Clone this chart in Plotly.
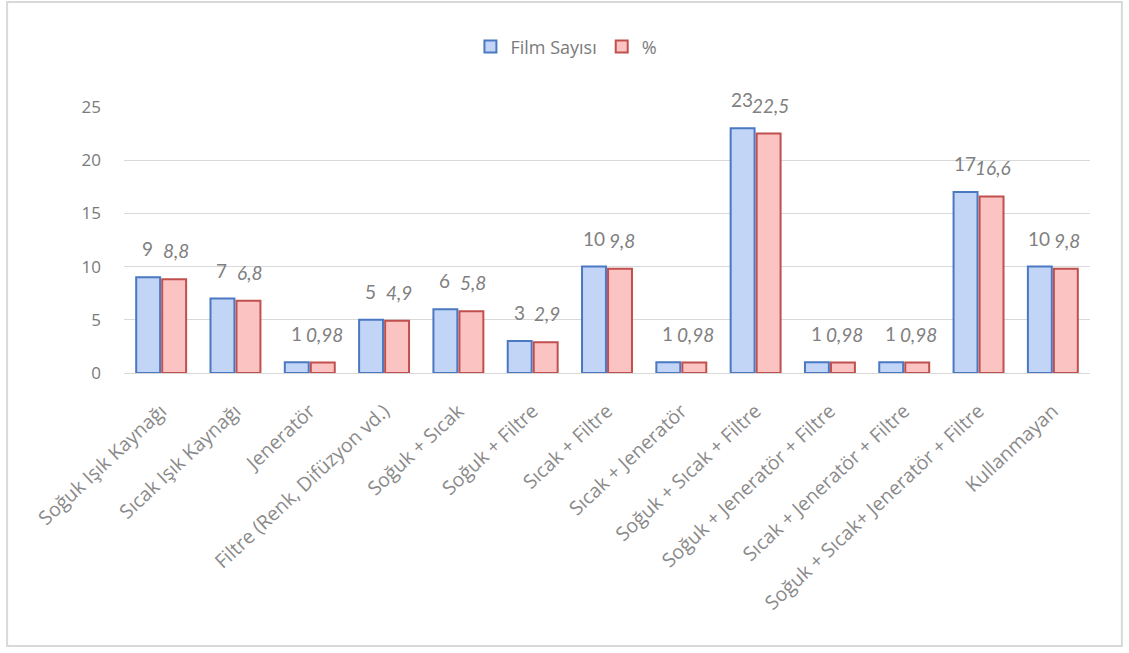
import plotly.graph_objects as go

categories = [
    "Soğuk Işık Kaynağı",
    "Sıcak Işık Kaynağı",
    "Jeneratör",
    "Filtre (Renk, Difüzyon vd.)",
    "Soğuk + Sıcak",
    "Soğuk + Filtre",
    "Sıcak + Filtre",
    "Sıcak + Jeneratör",
    "Soğuk + Sıcak + Filtre",
    "Soğuk + Jeneratör + Filtre",
    "Sıcak + Jeneratör + Filtre",
    "Soğuk + Sıcak+ Jeneratör + Filtre",
    "Kullanmayan",
]
film_sayisi = [9, 7, 1, 5, 6, 3, 10, 1, 23, 1, 1, 17, 10]
yuzde = [8.8, 6.8, 0.98, 4.9, 5.8, 2.9, 9.8, 0.98, 22.5, 0.98, 0.98, 16.6, 9.8]
y_ticks = [0, 5, 10, 15, 20, 25]

FONT = "Lato, 'Open Sans', sans-serif"
CAT_FONT = "'Open Sans', Lato, sans-serif"
GREY = "#7a7a7a"
CAT_GREY = "#8a8a8a"
LABEL_GREY = "#808080"


def tr_num(v):
    s = f"{v:g}"
    return s.replace(".", ",")


fig = go.Figure()
fig.add_trace(go.Bar(
    name="Film Sayısı", x=categories, y=film_sayisi,
    marker=dict(color="#c2d5f6", line=dict(color="#4a78c2", width=2)),
    hoverinfo="x+y",
))
fig.add_trace(go.Bar(
    name="%", x=categories, y=yuzde,
    marker=dict(color="#fcc3c3", line=dict(color="#c0504d", width=2)),
    hoverinfo="x+y",
))

annotations = []
for c, a, b in zip(categories, film_sayisi, yuzde):
    annotations.append(dict(
        x=c, y=a, xref="x", yref="y", text=tr_num(a), showarrow=False,
        xshift=-13.5, yshift=15, yanchor="bottom",
        font=dict(family=FONT, size=19, color=LABEL_GREY),
    ))
    annotations.append(dict(
        x=c, y=b, xref="x", yref="y", text=f"<i>{tr_num(b)}</i>", showarrow=False,
        xshift=14.5, yshift=15, yanchor="bottom",
        font=dict(family=FONT, size=19, color=LABEL_GREY),
    ))

fig.update_layout(
    width=1129, height=653,
    margin=dict(l=124, r=39, t=107, b=280),
    paper_bgcolor="white", plot_bgcolor="white",
    barmode="group", bargap=0.3, bargroupgap=0.08,
    font=dict(family=FONT, color=GREY),
    showlegend=True,
    legend=dict(
        orientation="h", x=0.458, y=1.226, xanchor="center", yanchor="middle",
        font=dict(family=CAT_FONT, size=18, color=GREY),
        itemwidth=30, traceorder="normal",
    ),
    xaxis=dict(
        tickangle=-43, tickfont=dict(family=CAT_FONT, size=19.5, color=CAT_GREY),
        showgrid=False, showline=False, ticks="",
        ticklabelstandoff=22,
    ),
    yaxis=dict(
        range=[0, 25], tickvals=y_ticks, ticktext=[str(t) for t in y_ticks],
        tickfont=dict(family=CAT_FONT, size=17, color=GREY),
        showgrid=True, gridcolor="#d9d9d9", gridwidth=1,
        zeroline=True, zerolinecolor="#d9d9d9", zerolinewidth=1,
        showline=False, ticks="", ticklen=0, ticklabelstandoff=22,
    ),
    annotations=annotations,
    shapes=[dict(
        type="rect", xref="paper", yref="paper",
        x0=-0.121, x1=1.033, y0=-1.026, y1=1.395,
        line=dict(color="#d9d9d9", width=2), fillcolor="rgba(0,0,0,0)",
    )],
)

fig.write_html("out.html")
